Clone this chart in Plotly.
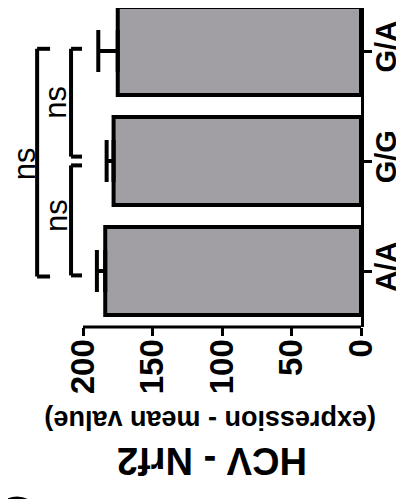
import plotly.graph_objects as go

categories = ["A/A", "G/G", "G/A"]
means = [184, 178, 175]
sems = [6, 5, 14]
x_ticks = [0, 50, 100, 150, 200]
# significance brackets: (cat_from, cat_to, x_tip, x_spine, label)
brackets = [
    (1.04, 2.02, 200.7, 208.6, "ns"),
    (-0.04, 0.96, 200.7, 208.6, "ns"),
    (-0.05, 2.02, 223.7, 233.0, "ns"),
]
label_x = [219.4, 219.4, 242.4]
label_y = [1.53, 0.50, 0.97]

FONT = "Liberation Sans, Arial, sans-serif"
OFF = 8  # page body margin offset
W, H = 404 - OFF, 499 - OFF
ML, MR, MT, MB = 0, 43, 0, 172
PW, PH = W - ML - MR, H - MT - MB
PXU = 1.39  # pixels per value unit
CAT = 110.0  # pixels per category


def px(x):
    return (x - OFF - ML) / PW


def py(y):
    return (PH - (y - OFF - MT)) / PH


fig = go.Figure()
fig.add_trace(go.Bar(
    y=categories, x=means, orientation="h", width=0.8,
    marker=dict(color="#a19fa4", line=dict(color="black", width=4)),
    error_x=dict(type="data", symmetric=False, array=sems,
                 arrayminus=[0] * len(sems), color="black",
                 thickness=4, width=21),
    showlegend=False,
))

shapes = []
for c0, c1, xt, xs, _ in brackets:
    for (a, b, c, d) in [(xt, c1, xs, c1), (xs, c1, xs, c0), (xs, c0, xt, c0)]:
        shapes.append(dict(type="line", xref="x", yref="y", x0=a, y0=b, x1=c, y1=d,
                           line=dict(color="black", width=4)))
# value axis baseline (only across 0..200)
shapes.append(dict(type="line", xref="x", yref="paper", x0=0, x1=200, y0=0, y1=0,
                   line=dict(color="black", width=3)))
# category axis line continuing to the top edge
shapes.append(dict(type="line", xref="paper", yref="paper", x0=1, x1=1, y0=1, y1=py(-2),
                   line=dict(color="black", width=3)))
# partial panel mark at bottom-left
shapes.append(dict(type="circle", xref="paper", yref="paper",
                   x0=px(-5), x1=px(39), y0=py(500), y1=py(548),
                   line=dict(color="black", width=7)))

annotations = []
for (c0, c1, xt, xs, lab), lx, ly in zip(brackets, label_x, label_y):
    annotations.append(dict(x=lx, y=ly, xref="x", yref="y", text=lab, showarrow=False,
                            textangle=-90, xanchor="center", yanchor="middle",
                            font=dict(family=FONT, size=31, color="black")))
annotations.append(dict(x=px(210), y=py(420), xref="paper", yref="paper",
                        text="(expression - mean value)", showarrow=False, textangle=180,
                        xanchor="center", yanchor="middle",
                        font=dict(family=FONT, size=27, color="black", weight="bold")))
annotations.append(dict(x=px(212), y=py(461), xref="paper", yref="paper",
                        text="HCV - Nrf2", showarrow=False, textangle=180,
                        xanchor="center", yanchor="middle",
                        font=dict(family=FONT, size=38, color="black", weight="bold")))

top_gap = 51 - OFF  # px from plot top to top category centre
bot_gap = PH - (271 - OFF)

fig.update_layout(
    width=W, height=H,
    margin=dict(l=ML, r=MR, t=MT, b=MB, pad=0, autoexpand=False),
    paper_bgcolor="white", plot_bgcolor="white",
    shapes=shapes, annotations=annotations,
    xaxis=dict(range=[PW / PXU, 0], tickvals=x_ticks, ticks="outside", ticklen=8,
               tickwidth=3, tickcolor="black", showline=False, showgrid=False,
               zeroline=False, tickangle=-90, automargin=False, ticklabelstandoff=-10,
               tickfont=dict(family=FONT, size=33, color="black", weight="bold")),
    yaxis=dict(type="category", categoryorder="array", categoryarray=categories,
               range=[-bot_gap / CAT, 2 + top_gap / CAT], side="right",
               showline=True, linewidth=3, automargin=False, ticklabelstandoff=-11,
               linecolor="black", ticks="outside", ticklen=8, tickwidth=3,
               tickcolor="black", showgrid=False, zeroline=False, tickangle=-90,
               tickfont=dict(family=FONT, size=29, color="black", weight="bold")),
)

fig.write_html("out.html")
